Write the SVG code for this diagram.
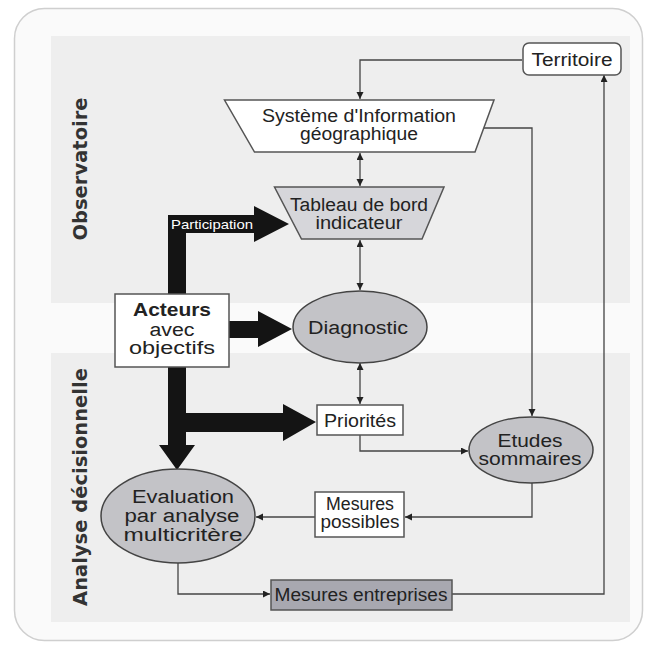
<svg xmlns="http://www.w3.org/2000/svg" width="652" height="653" viewBox="0 0 652 653">
<style>
.t{font-family:"Liberation Sans",Arial,sans-serif;font-size:18px;fill:#222;text-anchor:middle}
.lbl{font-family:"DejaVu Sans",sans-serif;font-weight:bold;font-size:19.5px;fill:#333;text-anchor:middle}
.c{fill:none;stroke:#444;stroke-width:1.3}
.box{fill:#fff;stroke:#555;stroke-width:1.5}
.ell{fill:#c3c3c7;stroke:#444;stroke-width:1.5}
.thick{fill:#141414}
</style>
<defs>
<marker id="a" markerUnits="userSpaceOnUse" markerWidth="8" markerHeight="8" refX="7" refY="3.5" orient="auto-start-reverse">
<path d="M0,0 L7,3.5 L0,7 Z" fill="#222"/>
</marker>
</defs>
<rect x="14.5" y="8.5" width="628" height="632" rx="30" fill="#fafafa" stroke="#cfcfcf" stroke-width="1.5"/>
<rect x="51" y="36" width="579" height="267" fill="#eeeeee"/>
<rect x="51" y="353" width="579" height="269" fill="#eeeeee"/>
<text class="lbl" transform="translate(87,169) rotate(-90)">Observatoire</text>
<text class="lbl" transform="translate(87,487) rotate(-90)">Analyse décisionnelle</text>

<g id="connectors">
<path class="c" d="M522,60 H360 V99" marker-end="url(#a)"/>
<path class="c" d="M360,153 V186" marker-start="url(#a)" marker-end="url(#a)"/>
<path class="c" d="M360,240 V290" marker-start="url(#a)" marker-end="url(#a)"/>
<path class="c" d="M360,363 V404" marker-start="url(#a)" marker-end="url(#a)"/>
<path class="c" d="M484,128 H532 V416" marker-end="url(#a)"/>
<path class="c" d="M360,435 V451 H468" marker-end="url(#a)"/>
<path class="c" d="M532,483 V517 H405" marker-end="url(#a)"/>
<path class="c" d="M315,517 H256" marker-end="url(#a)"/>
<path class="c" d="M178,563 V594 H270" marker-end="url(#a)"/>
<path class="c" d="M452,594 H604 V75" marker-end="url(#a)"/>
<path class="thick" d="M168,296 V215 H254 V206 L289,224 L254,242 V233 H186 V296 Z"/>
<text x="212" y="228.5" font-family="Liberation Sans,Arial,sans-serif" font-size="13" fill="#fff" text-anchor="middle" textLength="82" lengthAdjust="spacingAndGlyphs">Participation</text>
<path class="thick" d="M229,321 H258 V311 L292,329 L258,347 V338 H229 Z"/>
<path class="thick" d="M168,366 V445 H159 L177,470 L195,445 H186 V432 H283 V441 L316,422 L283,404 V413 H186 V366 Z"/>
</g>

<g id="territoire">
<rect class="box" x="523" y="43" width="98" height="32" rx="6"/>
<text class="t" x="572" y="66" font-size="19" textLength="81" lengthAdjust="spacingAndGlyphs">Territoire</text>
</g>
<g id="sig">
<path d="M224.5,100 H494 L475,152 H254.5 Z" fill="#fff" stroke="#555" stroke-width="1.5"/>
<text class="t" x="359" y="122" textLength="194" lengthAdjust="spacingAndGlyphs">Système d'Information</text>
<text class="t" x="359" y="140" textLength="118" lengthAdjust="spacingAndGlyphs">géographique</text>
</g>
<g id="tableau">
<path d="M274.5,187 H444 L422,239 H301.5 Z" fill="#d6d6da" stroke="#555" stroke-width="1.5"/>
<text class="t" x="359" y="211" textLength="138" lengthAdjust="spacingAndGlyphs">Tableau de bord</text>
<text class="t" x="359" y="229" textLength="87" lengthAdjust="spacingAndGlyphs">indicateur</text>
</g>
<g id="acteurs">
<rect class="box" x="115" y="294" width="114" height="73"/>
<text class="t" x="172" y="316" font-size="19" font-weight="bold" textLength="78" lengthAdjust="spacingAndGlyphs">Acteurs</text>
<text class="t" x="172" y="336" textLength="45" lengthAdjust="spacingAndGlyphs">avec</text>
<text class="t" x="172" y="354" textLength="86" lengthAdjust="spacingAndGlyphs">objectifs</text>
</g>
<g id="diagnostic">
<ellipse class="ell" cx="360" cy="327" rx="67" ry="36"/>
<text class="t" x="358" y="334" font-size="20" textLength="100" lengthAdjust="spacingAndGlyphs">Diagnostic</text>
</g>
<g id="priorites">
<rect class="box" x="317" y="405" width="86" height="30"/>
<text class="t" x="360" y="427" textLength="72" lengthAdjust="spacingAndGlyphs">Priorités</text>
</g>
<g id="etudes">
<ellipse class="ell" cx="531" cy="450" rx="62" ry="33"/>
<text class="t" x="530" y="447" textLength="65" lengthAdjust="spacingAndGlyphs">Etudes</text>
<text class="t" x="530" y="465" textLength="103" lengthAdjust="spacingAndGlyphs">sommaires</text>
</g>
<g id="mesures-possibles">
<rect class="box" x="315" y="492" width="89" height="45"/>
<text class="t" x="360" y="510" textLength="68" lengthAdjust="spacingAndGlyphs">Mesures</text>
<text class="t" x="360" y="528" textLength="79" lengthAdjust="spacingAndGlyphs">possibles</text>
</g>
<g id="evaluation">
<ellipse class="ell" cx="178" cy="516" rx="77" ry="47"/>
<text class="t" x="183" y="503" font-size="19" textLength="102" lengthAdjust="spacingAndGlyphs">Evaluation</text>
<text class="t" x="182" y="522" font-size="19" textLength="115" lengthAdjust="spacingAndGlyphs">par analyse</text>
<text class="t" x="183" y="541" font-size="19" textLength="119" lengthAdjust="spacingAndGlyphs">multicritère</text>
</g>
<g id="mesures-entreprises">
<rect x="271" y="580" width="181" height="30" fill="#a8a8b0" stroke="#555" stroke-width="1.5"/>
<text class="t" x="361" y="601" font-size="19" textLength="173" lengthAdjust="spacingAndGlyphs">Mesures entreprises</text>
</g>
</svg>
